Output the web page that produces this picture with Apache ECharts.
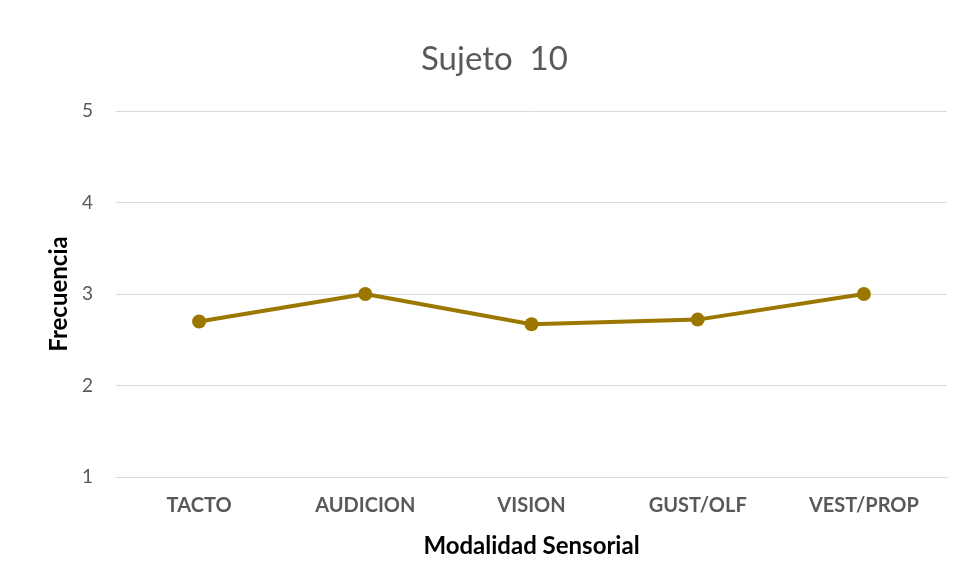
<!DOCTYPE html>
<html>
<head>
<meta charset="utf-8">
<title>Sujeto 10</title>
<script src="https://cdn.jsdelivr.net/npm/echarts@6/dist/echarts.min.js"></script>
<style>
  html, body { margin: 0; padding: 0; background: #fff; }
  #chart { width: 965px; height: 587px; }
</style>
</head>
<body>
<div id="chart"></div>
<script>
// modalidades sensoriales (eje x)
const categories = ['TACTO', 'AUDICION', 'VISION', 'GUST/OLF', 'VEST/PROP']
// frecuencia media por modalidad
const frecuencia = [2.7, 3.0, 2.67, 2.72, 3.0]
// eje y
const yMin = 1
const yMax = 5
const yStep = 1

const chart = echarts.init(document.getElementById('chart'))

chart.setOption({
  animation: false,
  textStyle: { fontFamily: 'Lato, "Open Sans", sans-serif' },
  title: {
    text: 'Sujeto  10',
    left: 416,
    top: 38,
    textStyle: {
      fontSize: 33,
      fontWeight: 'normal',
      color: '#595959',
      fontFamily: 'Lato, "Open Sans", sans-serif'
    }
  },
  grid: {
    left: 116,
    right: 18,
    top: 111,
    bottom: 110
  },
  xAxis: {
    type: 'category',
    data: categories,
    name: 'Modalidad Sensorial',
    nameLocation: 'middle',
    nameGap: 57,
    nameTextStyle: {
      fontSize: 24,
      fontWeight: 'bold',
      color: '#000'
    },
    axisLine: { lineStyle: { color: '#d9d9d9', width: 1 } },
    axisTick: { show: false },
    axisLabel: {
      margin: 19,
      fontSize: 20,
      fontWeight: 'bold',
      color: '#595959'
    }
  },
  yAxis: {
    type: 'value',
    min: yMin,
    max: yMax,
    interval: yStep,
    name: 'Frecuencia',
    nameLocation: 'middle',
    nameGap: 44,
    nameTextStyle: {
      fontSize: 24,
      fontWeight: 'bold',
      color: '#000'
    },
    axisLine: { show: false },
    axisTick: { show: false },
    axisLabel: {
      margin: 23,
      fontSize: 19,
      color: '#595959'
    },
    splitLine: { lineStyle: { color: '#d9d9d9', width: 1 } }
  },
  series: [
    {
      name: 'Frecuencia',
      type: 'line',
      data: frecuencia,
      symbol: 'circle',
      symbolSize: 14,
      lineStyle: { color: '#9c7700', width: 4 },
      itemStyle: { color: '#9c7700' }
    }
  ]
})
</script>
</body>
</html>
